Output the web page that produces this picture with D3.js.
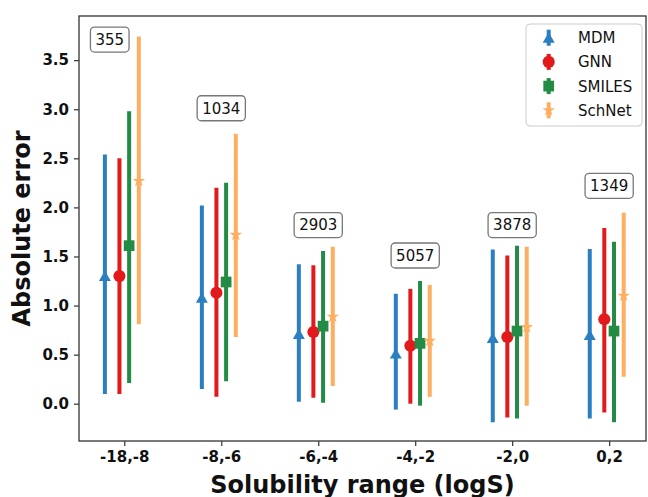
<!DOCTYPE html>
<html>
<head>
<meta charset="utf-8">
<script src="https://cdn.jsdelivr.net/npm/d3@7"></script>
<style>
  body { margin: 0; background: #fff; }
  svg { display: block; font-family: "DejaVu Sans", sans-serif; }
</style>
</head>
<body>
<script>
// categories and counts per range
var categories = ["-18,-8", "-8,-6", "-6,-4", "-4,-2", "-2,0", "0,2"];
var counts = [355, 1034, 2903, 5057, 3878, 1349];
var countX = [-0.15, 1, 2, 3, 4, 5];
var countY = [3.71, 3.01, 1.82, 1.51, 1.82, 2.22];

var seriesNames = ["MDM", "GNN", "SMILES", "SchNet"];

// mean, lower and upper ends of each bar
var mdmMean = [1.30, 1.08, 0.71, 0.51, 0.67, 0.70];
var mdmLow  = [0.10, 0.15, 0.02, -0.06, -0.19, -0.15];
var mdmHigh = [2.54, 2.02, 1.42, 1.12, 1.57, 1.575];

var gnnMean = [1.30, 1.13, 0.73, 0.59, 0.68, 0.86];
var gnnLow  = [0.10, 0.07, 0.06, 0.00, -0.14, -0.09];
var gnnHigh = [2.50, 2.20, 1.41, 1.17, 1.51, 1.79];

var smilesMean = [1.61, 1.24, 0.79, 0.615, 0.74, 0.74];
var smilesLow  = [0.21, 0.23, 0.01, -0.02, -0.15, -0.19];
var smilesHigh = [2.98, 2.25, 1.555, 1.25, 1.61, 1.65];

var schnetMean = [2.27, 1.72, 0.886, 0.64, 0.78, 1.10];
var schnetLow  = [0.81, 0.68, 0.18, 0.07, -0.02, 0.275];
var schnetHigh = [3.74, 2.75, 1.60, 1.21, 1.60, 1.945];

var yTicks = [0, 0.5, 1.0, 1.5, 2.0, 2.5, 3.0, 3.5];

var width = 648, height = 497;
var plotL = 79, plotR = 646, plotT = 16, plotB = 441;

var colors = ["#2b7fc0", "#e31a1c", "#238b45", "#fdae61"];
var offsets = [-0.2, -0.05, 0.05, 0.15];
var symbols = [d3.symbolTriangle, d3.symbolCircle, d3.symbolSquare, d3.symbolStar];
var symSizes = [62, 115, 115, 48];

var series = [
  { mean: mdmMean, low: mdmLow, high: mdmHigh },
  { mean: gnnMean, low: gnnLow, high: gnnHigh },
  { mean: smilesMean, low: smilesLow, high: smilesHigh },
  { mean: schnetMean, low: schnetLow, high: schnetHigh }
];

var x = d3.scaleLinear().domain([-0.467, 5.38]).range([plotL, plotR]);
var y = d3.scaleLinear().domain([-0.38, 3.95]).range([plotB, plotT]);

var svg = d3.select("body").append("svg")
    .attr("width", width)
    .attr("height", height);

// error bars + markers
series.forEach(function(s, k) {
  var g = svg.append("g").attr("class", "series");
  categories.forEach(function(c, i) {
    var cx = x(i + offsets[k]);
    g.append("line")
      .attr("x1", cx).attr("x2", cx)
      .attr("y1", y(s.low[i])).attr("y2", y(s.high[i]))
      .attr("stroke", colors[k])
      .attr("stroke-width", 4);
    g.append("path")
      .attr("d", d3.symbol().type(symbols[k]).size(symSizes[k]))
      .attr("transform", "translate(" + cx + "," + (y(s.mean[i]) + (k == 0 ? 1.5 : 0)) + ")")
      .attr("fill", colors[k]);
  });
});

// count boxes
counts.forEach(function(n, i) {
  var g = svg.append("g")
    .attr("transform", "translate(" + x(countX[i]) + "," + y(countY[i]) + ")");
  var t = g.append("text")
    .attr("text-anchor", "middle")
    .attr("dy", "0.36em")
    .style("font-size", "15px")
    .attr("fill", "#111")
    .text(n);
  var w = t.node().getComputedTextLength();
  g.insert("rect", "text")
    .attr("x", -w / 2 - 5).attr("y", -12.5)
    .attr("width", w + 10).attr("height", 25)
    .attr("rx", 4)
    .attr("fill", "#fff")
    .attr("stroke", "#777")
    .attr("stroke-width", 1.3);
});

// axes
var xAxis = d3.axisBottom(x)
  .tickValues(d3.range(categories.length))
  .tickFormat(function(d) { return categories[d]; })
  .tickSize(5).tickPadding(5);
var yAxis = d3.axisLeft(y)
  .tickValues(yTicks)
  .tickFormat(d3.format(".1f"))
  .tickSize(5).tickPadding(5);

var gx = svg.append("g")
  .attr("transform", "translate(0," + plotB + ")")
  .call(xAxis);
var gy = svg.append("g")
  .attr("transform", "translate(" + plotL + ",0)")
  .call(yAxis);

[gx, gy].forEach(function(g) {
  g.select(".domain").remove();
  g.selectAll(".tick line").attr("stroke", "#333").attr("stroke-width", 1.2);
  g.selectAll(".tick text")
    .attr("fill", "#111")
    .style("font-size", "15px")
    .style("font-weight", "bold")
    .style("font-family", "'DejaVu Sans', sans-serif");
});

// frame
svg.append("rect")
  .attr("x", plotL).attr("y", plotT)
  .attr("width", plotR - plotL).attr("height", plotB - plotT)
  .attr("fill", "none")
  .attr("stroke", "#333")
  .attr("stroke-width", 1.3);

// axis titles
svg.append("text")
  .attr("x", (plotL + plotR) / 2).attr("y", 493)
  .attr("text-anchor", "middle")
  .style("font-size", "24px").style("font-weight", "bold")
  .attr("fill", "#111")
  .text("Solubility range (logS)");

svg.append("text")
  .attr("transform", "translate(30," + (plotT + plotB) / 2 + ") rotate(-90)")
  .attr("text-anchor", "middle")
  .style("font-size", "24px").style("font-weight", "bold")
  .attr("fill", "#111")
  .text("Absolute error");

// legend
var lg = svg.append("g").attr("transform", "translate(526,24)");
lg.append("rect")
  .attr("width", 116).attr("height", 102)
  .attr("rx", 4)
  .attr("fill", "#fff").attr("fill-opacity", 0.8)
  .attr("stroke", "#ccc");
seriesNames.forEach(function(name, k) {
  var ly = 13.7 + k * 24.2;
  lg.append("line")
    .attr("x1", 22.7).attr("x2", 22.7)
    .attr("y1", ly - 8).attr("y2", ly + 8)
    .attr("stroke", colors[k]).attr("stroke-width", 4);
  lg.append("path")
    .attr("d", d3.symbol().type(symbols[k]).size(symSizes[k]))
    .attr("transform", "translate(22.7," + (ly + (k == 0 ? 1.5 : 0)) + ")")
    .attr("fill", colors[k]);
  lg.append("text")
    .attr("x", 52).attr("y", ly)
    .attr("dy", "0.36em")
    .style("font-size", "15px")
    .attr("fill", "#111")
    .text(name);
});
</script>
</body>
</html>
